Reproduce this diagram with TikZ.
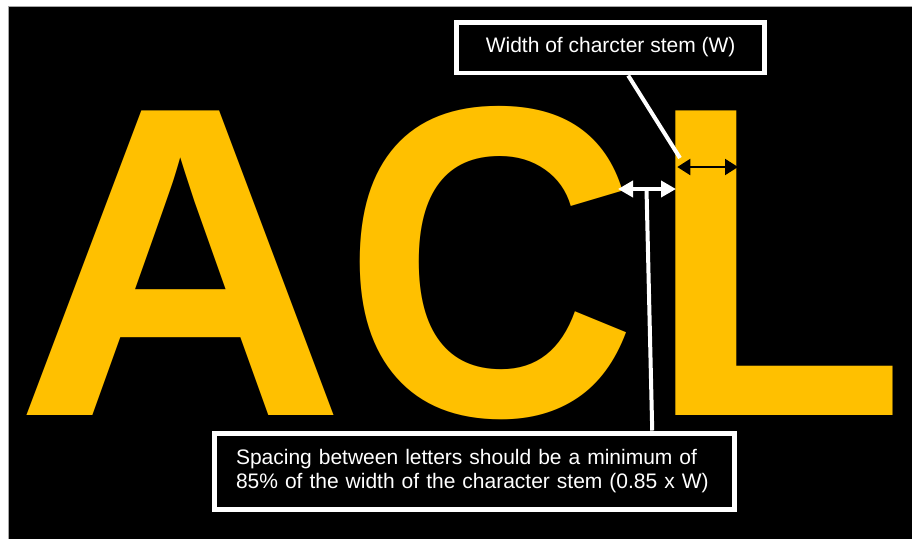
\documentclass[tikz,border=0pt]{standalone}
\usepackage{fontspec}
\usepackage{graphicx}
\setmainfont{Liberation Sans}
\usetikzlibrary{arrows.meta}
\definecolor{gold}{RGB}{255,192,0}

\begin{document}
\begin{tikzpicture}[x=0.02cm,y=-0.02cm,
	letter/.style={inner sep=0pt,anchor=base west,text=gold,font=\fontsize{252}{252}\selectfont\bfseries},
	label box/.style={draw=white,line width=0.1cm,fill=black,text=white,font=\fontsize{11.95}{13.66}\selectfont},
	white line/.style={white,line width=0.08cm},
	white arrow/.style={white line,{Triangle[length=0.3cm,width=0.32cm]}-{Triangle[length=0.3cm,width=0.32cm]}},
	black arrow/.style={black,line width=0.04cm,{Triangle[length=0.26cm,width=0.32cm]}-{Triangle[length=0.26cm,width=0.32cm]}}]
	\useasboundingbox (0,0) rectangle (912,538);

	%background
	\filldraw[fill=black,draw=gray!70,line width=0.02cm] (8,6) rectangle (913,539);

	%letters
	\node[letter] (letA) at (15.4,415.7) {\scalebox{1.034}[1]{A}};
	\node[letter] (letC) at (343,415.7) {\scalebox{0.92}[1]{C}};
	\node[letter] (letL) at (647.4,415.7) {\scalebox{0.956}[1]{L}};

	%text boxes
	\node[label box,minimum width=6.16cm,minimum height=1.02cm] (wbox) at (610.6,47.5) {Width of charcter stem (W)}; %stem box
	\node[label box,inner xsep=0.44cm,text width=9.53cm,align=left,minimum height=1.52cm] (sbox) at (474.25,471)
		{Spacing between letters should be a minimum of\\85\% of the width of the character stem (0.85 x W)}; %spacing box

	%arrow ends
	\coordinate (wtip) at (680,158);
	\coordinate (stemL) at (677.3,167);
	\coordinate (stemR) at (738,167);
	\coordinate (gapL) at (618,189);
	\coordinate (gapR) at (676,189);
	\coordinate (gapM) at (646.5,189);

	%arrows
	\draw[white line] (wbox) -- (wtip); %stem pointer
	\draw[black arrow] (stemL) -- (stemR); %stem width
	\draw[white line] (gapM) -- ([xshift=3.56cm]sbox.north); %spacing pointer
	\draw[white arrow] (gapL) -- (gapR); %spacing width
\end{tikzpicture}
\end{document}
